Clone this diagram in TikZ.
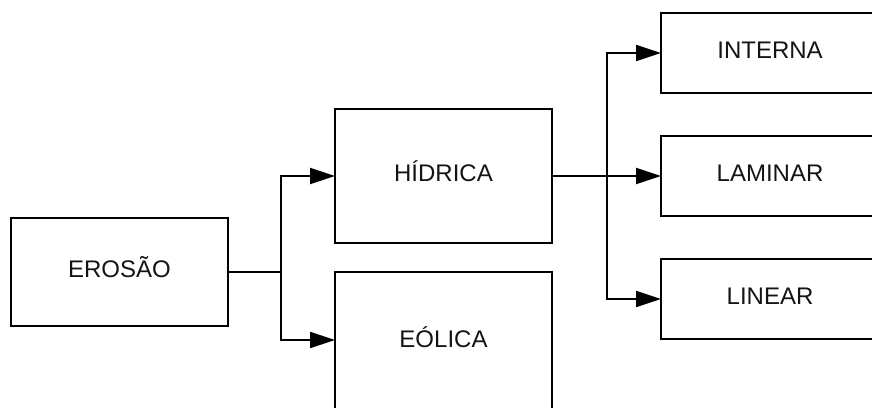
\documentclass[tikz,border=0pt]{standalone}
\usepackage{fontspec}
\setmainfont{Liberation Sans}
\usetikzlibrary{arrows.meta}
\begin{document}
\begin{tikzpicture}[x=1pt,y=-1pt,
  box/.style={draw=black, line width=2pt, fill=white, text=black!92,
    inner sep=0pt, outer sep=0pt,
    text height=17.2pt, text depth=6pt,
    font=\fontsize{24}{28}\selectfont},
  conn/.style={line width=2pt, -{Triangle[length=25pt,width=16pt]}},
  link/.style={line width=2pt}]
  \clip (0,0) rectangle (872,407);
  \useasboundingbox (0,0) rectangle (872,407);

  % boxes
  \node[box, minimum width=217pt, minimum height=108pt] (erosao)  at (119.5,271.5) {EROSÃO};
  \node[box, minimum width=217pt, minimum height=134pt] (hidrica) at (443.5,176)   {HÍDRICA};
  \node[box, minimum width=217pt, minimum height=140pt] (eolica)  at (443.5,342)   {EÓLICA};
  \node[box, minimum width=218pt, minimum height=80pt]  (interna) at (770,53)      {INTERNA};
  \node[box, minimum width=218pt, minimum height=80pt]  (laminar) at (770,176)     {LAMINAR};
  \node[box, minimum width=218pt, minimum height=80pt]  (linear)  at (770,299)     {LINEAR};

  % branching points
  \coordinate (j1) at (281,271.5);
  \coordinate (j2) at (607,176);
  \coordinate (e1) at (281,340);

  % EROSÃO -> HÍDRICA / EÓLICA
  \draw[link] (erosao.east) -- (j1);
  \draw[conn] (j1) |- (hidrica.west);
  \draw[conn] (j1) -- (e1) -- (e1 -| eolica.west);

  % HÍDRICA -> INTERNA / LAMINAR / LINEAR
  \draw[link] (hidrica.east) -- (j2);
  \draw[conn] (j2) |- (interna.west);
  \draw[conn] (j2) -- (laminar.west);
  \draw[conn] (j2) |- (linear.west);
\end{tikzpicture}
\end{document}
